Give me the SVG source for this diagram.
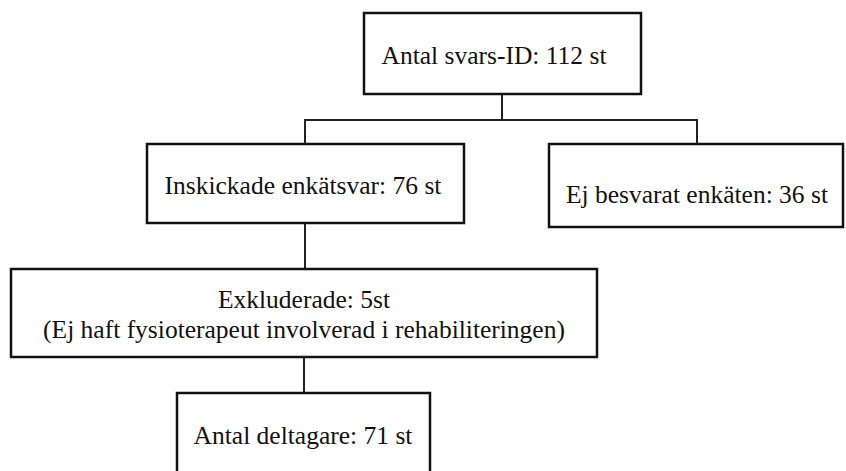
<svg xmlns="http://www.w3.org/2000/svg" width="846" height="471" viewBox="0 0 846 471">
<style>
.box{fill:#fff;stroke:#111;stroke-width:2.5}
.lbl{font-family:"Liberation Serif","Times New Roman",serif;font-size:25.5px;fill:#111;text-anchor:middle}
.con{fill:none;stroke:#222;stroke-width:2}
</style>
<rect width="846" height="471" fill="#fff"/>
<g id="connectors">
<line class="con" x1="502" y1="94" x2="502" y2="120"/>
<line class="con" x1="304" y1="120" x2="698" y2="120"/>
<line class="con" x1="305" y1="120" x2="305" y2="144"/>
<line class="con" x1="697" y1="120" x2="697" y2="144"/>
<line class="con" x1="305" y1="223" x2="305" y2="269"/>
<line class="con" x1="304" y1="357" x2="304" y2="393"/>
</g>
<g id="n-total">
<rect class="box" x="364" y="13" width="277" height="81"/>
<text class="lbl" x="494" y="64">Antal svars-ID: 112 st</text>
</g>
<g id="n-inskickade">
<rect class="box" x="147" y="144" width="317" height="79"/>
<text class="lbl" x="303" y="194">Inskickade enkätsvar: 76 st</text>
</g>
<g id="n-ejbesvarat">
<rect class="box" x="549" y="144" width="294" height="83"/>
<text class="lbl" x="697" y="203">Ej besvarat enkäten: 36 st</text>
</g>
<g id="n-exkluderade">
<rect class="box" x="11" y="269" width="586" height="88"/>
<text class="lbl" x="304" y="308">Exkluderade: 5st</text>
<text class="lbl" x="304" y="338">(Ej haft fysioterapeut involverad i rehabiliteringen)</text>
</g>
<g id="n-deltagare">
<rect class="box" x="177" y="393" width="253" height="100"/>
<text class="lbl" x="303" y="444">Antal deltagare: 71 st</text>
</g>
</svg>
